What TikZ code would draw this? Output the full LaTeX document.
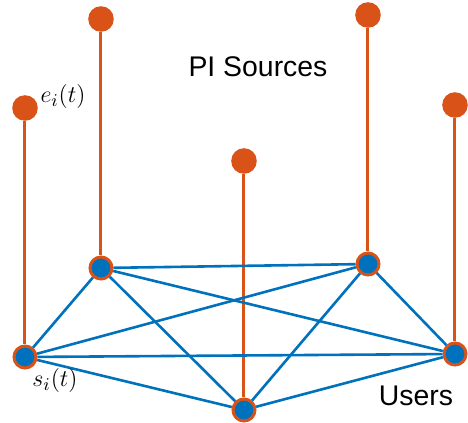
\documentclass[tikz,border=0pt]{standalone}
\usepackage{fontspec}
\setsansfont{Liberation Sans}
\definecolor{srcorange}{RGB}{217,83,25}
\definecolor{userblue}{RGB}{0,114,189}
\begin{document}
\begin{tikzpicture}[x={(0.5pt,0)},y={(0,-0.5pt)}]
    \tikzstyle{source}=[circle,fill=srcorange,inner sep=0pt,minimum size=12.8pt]
    \tikzstyle{user}=[circle,fill=userblue,draw=srcorange,line width=1.5pt,inner sep=0pt,minimum size=11pt]
    \tikzstyle{link}=[userblue,line width=1.3pt]
    \tikzstyle{feed}=[srcorange,line width=1.5pt]
    \useasboundingbox (0,0) rectangle (468,423);

    % users
    \node[user] (u1) at (25,357)  {};
    \node[user] (u2) at (101,268) {};
    \node[user] (u3) at (244,410) {};
    \node[user] (u4) at (368,264) {};
    \node[user] (u5) at (455,354) {};

    % PI sources
    \node[source] (e1) at (25,108)  {};
    \node[source] (e2) at (101,19)  {};
    \node[source] (e3) at (244,161) {};
    \node[source] (e4) at (368,15)  {};
    \node[source] (e5) at (455,105) {};

    \foreach \i in {1,...,5}
        \draw[feed] (e\i) -- (u\i);

    \foreach \i/\j in {1/2,1/3,1/4,1/5,2/3,2/4,2/5,3/4,3/5,4/5}
        \draw[link] (u\i) -- (u\j);

    \node[font=\fontsize{12.5}{15}\selectfont] (elabel) at (63,97) {$e_i(t)$};
    \node[font=\fontsize{12.5}{15}\selectfont] (slabel) at (55,381) {$s_i(t)$};
    \node[font=\sffamily\fontsize{14.2}{17}\selectfont] (srctitle) at (258,67) {PI Sources};
    \node[font=\sffamily\fontsize{14.2}{17}\selectfont] (usertitle) at (416,396) {Users};

\end{tikzpicture}
\end{document}
